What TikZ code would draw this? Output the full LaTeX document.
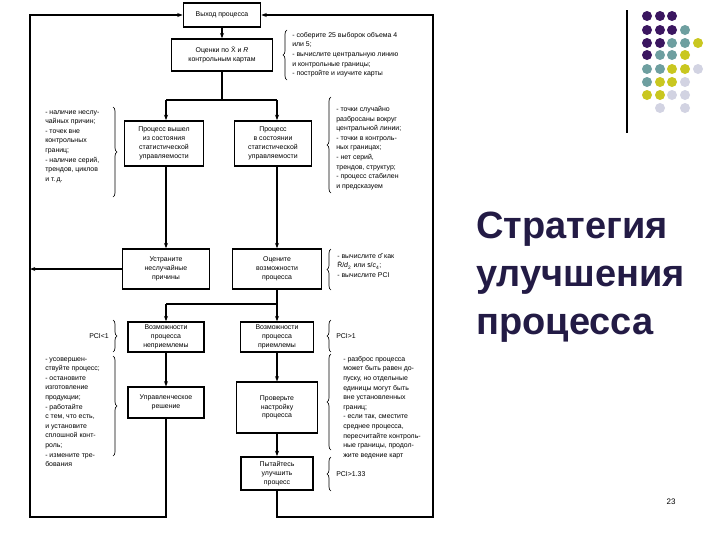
\documentclass[tikz,border=0pt]{standalone}
\usepackage{fontspec}
\setmainfont{Liberation Sans}
\usetikzlibrary{decorations.pathreplacing,arrows.meta}
\definecolor{dP}{HTML}{3B1660}
\definecolor{dT}{HTML}{6E9FA0}
\definecolor{dY}{HTML}{C9C720}
\definecolor{dL}{HTML}{D2D3E2}
\definecolor{ttl}{HTML}{231B45}
\begin{document}
\begin{tikzpicture}[x=0.75pt,y=-0.75pt,
  box/.style={draw,line width=1.1pt,align=center,inner sep=1pt,font=\fontsize{5.2}{6.6}\selectfont},
  lst/.style={anchor=north west,align=left,inner sep=0pt,font=\fontsize{5.2}{7.2}\selectfont},
  con/.style={line width=1pt},
  arr/.style={line width=1pt,-{Stealth[length=4pt,width=3pt]}},
  brR/.style={decorate,decoration={brace,amplitude=3pt},line width=0.5pt},
  dot/.style={circle,inner sep=0pt,minimum size=7.5pt}]
\useasboundingbox (0,0) rectangle (720,540);
% boxes
\node[box,minimum width=58pt,minimum height=18pt] (top) at (222,15) {Выход процесса};
\node[box,minimum width=76pt,minimum height=24pt] (oc) at (222,55) {Оценки по \={X} и \textit{R}\\контрольным картам};
\node[box,minimum width=59pt,minimum height=34pt] (vy) at (164,143.5) {Процесс вышел\\из состояния\\статистической\\управляемости};
\node[box,minimum width=58pt,minimum height=34pt] (vs) at (273,143.5) {Процесс\\в состоянии\\статистической\\управляемости};
\node[box,minimum width=65pt,minimum height=30pt] (us) at (166,269) {Устраните\\неслучайные\\причины};
\node[box,minimum width=67pt,minimum height=30pt] (ov) at (277,269) {Оцените\\возможности\\процесса};
\node[box,minimum width=57pt,minimum height=22.5pt] (np) at (166,337) {Возможности\\процесса\\неприемлемы};
\node[box,minimum width=55pt,minimum height=22.5pt] (pr) at (277,337) {Возможности\\процесса\\приемлемы};
\node[box,minimum width=57pt,minimum height=23pt] (up) at (166,402.5) {Управленческое\\решение};
\node[box,minimum width=61pt,minimum height=38pt] (pv) at (277,407.5) {Проверьте\\настройку\\процесса};
\node[box,minimum width=54pt,minimum height=25pt] (py) at (277,473.5) {Пытайтесь\\улучшить\\процесс};
% coordinates
\coordinate (b1) at (222,100); \coordinate (b1L) at (166,100); \coordinate (b1R) at (277,100);
\coordinate (b2) at (277,304); \coordinate (b2L) at (166,304);
\coordinate (lb) at (166,517); \coordinate (lc) at (30,517); \coordinate (lt) at (30,15); \coordinate (lm) at (30,269);
\coordinate (rb) at (277,517); \coordinate (rc) at (433,517); \coordinate (rt) at (433,15);
% connectors
\draw[arr] (top) -- (oc);
\draw[con] (oc) -- (b1); \draw[con] (b1L) -- (b1R);
\draw[arr] (b1L) -- (b1L |- vy.north); \draw[arr] (b1R) -- (b1R |- vs.north);
\draw[arr] (vy.south -| us.north) -- (us); \draw[arr] (vs.south -| ov.north) -- (ov);
\draw[con] (ov) -- (b2) -- (b2L); \draw[arr] (b2L) -- (np); \draw[arr] (b2) -- (pr);
\draw[arr] (np) -- (up); \draw[arr] (pr) -- (pv); \draw[arr] (pv) -- (py);
\draw[arr] (up.south) -- (lb) -- (lc) -- (lt) -- (top.west);
\draw[arr] (py.south) -- (rb) -- (rc) -- (rt) -- (top.east);
\draw[arr] (us) -- (lm);
% braces and lists
\draw[brR] (287,80) -- (287,30);
\node[lst] (t1) at (292,32) {- соберите 25 выборок объема 4\\или 5;\\- вычислите центральную линию\\и контрольные границы;\\- постройте и изучите карты};
\draw[brR] (113,107) -- (113,197);
\node[lst] (t2) at (45,110) {- наличие неслу-\\чайных причин;\\- точек вне\\контрольных\\границ;\\- наличие серий,\\трендов, циклов\\и т.\,д.};
\draw[brR] (331,193) -- (331,97);
\node[lst] (t3) at (336,106) {- точки случайно\\разбросаны вокруг\\центральной линии;\\- точки в контроль-\\ных границах;\\- нет серий,\\трендов, структур;\\- процесс стабилен\\и предсказуем};
\draw[brR] (331,290) -- (331,249);
\node[lst] (t4) at (337,253) {- вычислите \^{σ} как\\\={R}/\textit{d}\textsubscript{2} или \={s}/\textit{c}\textsubscript{4};\\- вычислите PCI};
\draw[brR] (113,320) -- (113,352);
\node[lst,anchor=east] (t5) at (109,336) {PCI<1};
\draw[brR] (113,356) -- (113,456);
\node[lst] (t6) at (45,357) {- усовершен-\\ствуйте процесс;\\- остановите\\изготовление\\продукции;\\- работайте\\с тем, что есть,\\и установите\\сплошной конт-\\роль;\\- измените тре-\\бования};
\draw[brR] (331,352) -- (331,320);
\node[lst,anchor=west] (t7) at (336,336) {PCI>1};
\draw[brR] (331,450) -- (331,354);
\node[lst] (t8) at (343,356) {- разброс процесса\\может быть равен до-\\пуску, но отдельные\\единицы могут быть\\вне установленных\\границ;\\- если так, сместите\\среднее процесса,\\пересчитайте контроль-\\ные границы, продол-\\жите ведение карт};
\draw[brR] (331,491) -- (331,457);
\node[lst,anchor=west] (t9) at (336,474) {PCI>1.33};
% title
\node[anchor=north west,align=left,inner sep=0pt,text=ttl,font=\bfseries\fontsize{28.5}{36}\selectfont] (title) at (476,212) {Стратегия\\улучшения\\процесса};
\node[font=\fontsize{6}{7}\selectfont] (pg) at (671,502) {23};
% decoration
\draw[line width=1.2pt] (627,10) -- (627,133);
\foreach \c/\x/\y in {dP/647/16,dP/660/16,dP/672/16,
 dP/647/30,dP/660/30,dP/672/30,dT/685/30,
 dP/647/43,dP/660/43,dT/672/43,dT/685/43,dY/698/43,
 dP/647/55,dT/660/55,dT/672/55,dY/685/55,
 dT/647/69,dT/660/69,dY/672/69,dY/685/69,dL/698/69,
 dT/647/82,dY/660/82,dY/672/82,dL/685/82,
 dY/647/95,dY/660/95,dL/672/95,dL/685/95,
 dL/660/108,dL/685/108}
 \node[dot,fill=\c] at (\x,\y) {};
\end{tikzpicture}
\end{document}
